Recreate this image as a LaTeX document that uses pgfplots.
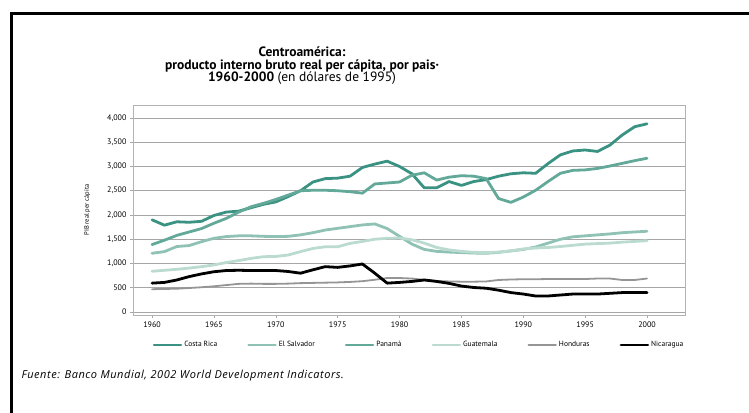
\documentclass[border=0pt]{standalone}
\usepackage{fontspec}
\setmainfont{PT Sans}
\newfontfamily\opensans[LetterSpace=5]{Open Sans}
\usepackage{pgfplots}
\pgfplotsset{compat=1.18}
\usepackage{pgfplotstable}
\definecolor{cCR}{HTML}{3A9282}
\definecolor{cES}{HTML}{8FC2B4}
\definecolor{cPA}{HTML}{62A999}
\definecolor{cGU}{HTML}{BBDBD1}
\definecolor{cHO}{HTML}{959595}
\definecolor{cNI}{HTML}{000000}
\pgfplotstableread{
year CR ES PA GU HO NI
1960 1900 1210 1390 840 470 595
1961 1790 1245 1480 860 475 610
1962 1860 1350 1580 880 480 660
1963 1850 1370 1650 905 495 730
1964 1870 1450 1720 935 510 785
1965 1990 1520 1830 970 530 830
1966 2060 1555 1930 1020 555 855
1967 2080 1570 2060 1060 580 860
1968 2150 1570 2170 1105 585 855
1969 2220 1560 2240 1140 580 855
1970 2270 1555 2320 1145 580 855
1971 2380 1560 2410 1175 585 835
1972 2500 1590 2500 1245 595 800
1973 2680 1635 2510 1310 600 870
1974 2750 1690 2510 1345 605 935
1975 2760 1725 2500 1345 610 920
1976 2800 1760 2480 1415 620 950
1977 2980 1795 2450 1455 635 990
1978 3050 1815 2640 1500 665 800
1979 3110 1720 2660 1520 700 595
1980 3000 1560 2680 1525 700 610
1981 2850 1400 2820 1490 690 630
1982 2560 1290 2870 1420 660 660
1983 2560 1250 2720 1330 640 630
1984 2690 1235 2780 1280 630 590
1985 2610 1225 2810 1250 625 535
1986 2690 1215 2800 1230 625 505
1987 2730 1210 2750 1225 630 490
1988 2800 1230 2340 1235 660 450
1989 2850 1260 2260 1260 670 400
1990 2870 1290 2370 1300 675 370
1991 2860 1340 2510 1320 675 330
1992 3060 1420 2690 1330 680 330
1993 3240 1500 2860 1350 680 350
1994 3320 1550 2920 1375 680 370
1995 3340 1570 2930 1400 680 370
1996 3310 1590 2960 1410 690 370
1997 3440 1610 3010 1420 690 385
1998 3650 1635 3065 1440 660 400
1999 3820 1650 3120 1455 660 400
2000 3880 1665 3170 1470 690 400
}\gdp
\begin{document}
\begin{tikzpicture}
\path[use as bounding box] (0pt,0pt) rectangle (749pt,412pt);
\begin{scope}
\clip (0pt,0pt) rectangle (749pt,412pt);
\draw[line width=3pt] (11.5pt,-10pt) -- (11.5pt,398pt) -- (760pt,398pt);
\end{scope}
\node[align=center,font=\fontsize{13.5}{12.5}\selectfont\bfseries] at (302pt,346pt) {Centroamérica:\\producto interno bruto real per cápita, por pais·\\1960-2000 {\mdseries(en dólares de 1995)}};
\node[anchor=west,font=\opensans\fontsize{11}{12}\selectfont\itshape] at (18pt,36pt) {Fuente: Banco Mundial, 2002 World Development Indicators.};
\begin{axis}[
  at={(133pt,97pt)}, anchor=south west,
  scale only axis, width=552pt, height=210pt,
  xmin=1958.46, xmax=2003.07, ymin=-62, ymax=4268,
  xtick={1960,1965,...,2000}, ytick={0,500,...,4000},
  xticklabel style={/pgf/number format/1000 sep={}},
  yticklabel style={/pgf/number format/1000 sep={,}},
  /pgf/number format/assume math mode=true,
  tick label style={font=\fontsize{8}{9}\selectfont},
  ymajorgrids, grid style={gray!70, line width=0.6pt},
  axis line style={gray!60, line width=0.6pt},
  tick style={gray!70, line width=0.5pt},
  tick align=outside, major tick length=3pt,
  xtick pos=bottom, ytick pos=left,
  ylabel={PIB real per cápita},
  ylabel style={font=\fontsize{6.5}{7}\selectfont, at={(axis description cs:-0.083,0.5)}, anchor=center},
  legend columns=6,
  legend style={draw=none, fill=none, at={(0.03,-0.143)}, anchor=west,
    font=\fontsize{7.5}{8}\selectfont,
    /tikz/every even column/.append style={column sep=28pt}},
  legend image code/.code={\draw[#1, line width=2.5pt] (0pt,0pt) -- (27pt,0pt);},
  every axis plot/.append style={line join=round, line cap=round},
]
\addplot[cCR, line width=2.8pt] table[x=year,y=CR] {\gdp};
\addplot[cES, line width=2.8pt] table[x=year,y=ES] {\gdp};
\addplot[cPA, line width=2.8pt] table[x=year,y=PA] {\gdp};
\addplot[cGU, line width=2.8pt] table[x=year,y=GU] {\gdp};
\addplot[cHO, line width=1.8pt] table[x=year,y=HO] {\gdp};
\addplot[cNI, line width=2.8pt] table[x=year,y=NI] {\gdp};
\legend{Costa Rica, El Salvador, Panamá, Guatemala, Honduras, Nicaragua}
\end{axis}
\end{tikzpicture}
\end{document}
